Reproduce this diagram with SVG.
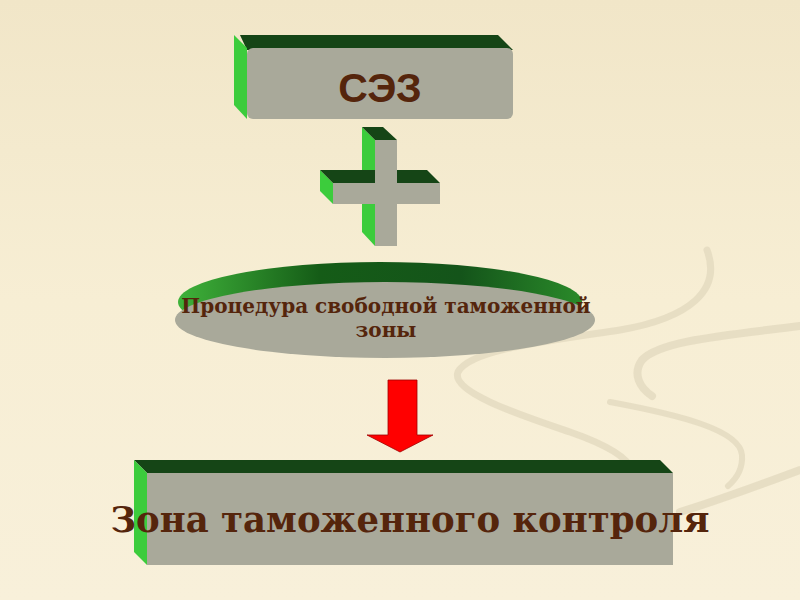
<svg xmlns="http://www.w3.org/2000/svg" width="800" height="600" viewBox="0 0 800 600">
<defs>
<linearGradient id="bg" x1="0" y1="0" x2="0" y2="1">
<stop offset="0" stop-color="#f1e6c8"/>
<stop offset="0.5" stop-color="#f7eed4"/>
<stop offset="1" stop-color="#f8f0da"/>
</linearGradient>
<linearGradient id="eg" x1="0" y1="0" x2="1" y2="0">
<stop offset="0" stop-color="#3fb23a"/>
<stop offset="0.35" stop-color="#155c17"/>
<stop offset="0.7" stop-color="#14541a"/>
<stop offset="1" stop-color="#2a8a2a"/>
</linearGradient>
<style>
.front{fill:#a9a99a}
.top{fill:#154516}
.side{fill:#3ccc3c}
.sw{fill:none;stroke:#e2d8bd;stroke-linecap:round;opacity:0.75}
.t{font-family:"DejaVu Serif",serif;font-weight:bold;fill:#55250c;text-anchor:middle}
</style>
</defs>
<rect width="800" height="600" fill="url(#bg)"/>
<g id="background-swirls">
<path class="sw" stroke-width="7" d="M707,250 C722,290 690,318 620,330 C540,342 470,350 458,372 C450,392 520,415 570,432 C610,446 628,458 632,470"/>
<path class="sw" stroke-width="8" d="M800,326 C730,335 660,340 642,360 C632,374 640,388 652,396"/>
<path class="sw" stroke-width="6" d="M610,402 C680,415 740,430 742,455 C743,470 735,480 728,486"/>
<path class="sw" stroke-width="8" d="M800,470 C760,485 720,500 680,512"/>
</g>
<g id="node-sez">
<polygon class="top" points="240,35 498,35 513,50 247,50"/>
<path class="side" d="M247,48 L234,35 L234,105 L247,119 Z"/>
<rect class="front" x="247" y="48" width="266" height="71" rx="6"/>
<text class="t" x="380" y="102" style="font-family:'Liberation Sans',Arial,sans-serif;font-size:41px">СЭЗ</text>
</g>
<g id="node-plus">
<polygon class="side" points="362,127 375,140 375,246 362,232"/>
<polygon class="top" points="362,127 383,127 397,140 375,140"/>
<polygon class="side" points="320,170 333,183 333,204 320,191"/>
<polygon class="top" points="320,170 427,170 440,183 333,183"/>
<polygon class="front" points="375,140 397,140 397,183 440,183 440,204 397,204 397,246 375,246 375,204 333,204 333,183 375,183"/>
</g>
<g id="node-procedure">
<ellipse cx="380" cy="302" rx="202" ry="40" fill="url(#eg)"/>
<ellipse class="front" cx="385" cy="320" rx="210" ry="38"/>
<text class="t" x="386" y="313" font-size="20">Процедура свободной таможенной</text>
<text class="t" x="386" y="337" font-size="20">зоны</text>
</g>
<g id="connectors">
<polygon points="388,380 417,380 417,435 433,435 400,452 367,435 388,435" fill="#ff0000" stroke="#a00000" stroke-width="0.8"/>
</g>
<g id="node-zone">
<polygon class="top" points="134,460 660,460 673,473 147,473"/>
<polygon class="side" points="134,460 147,473 147,565 134,552"/>
<rect class="front" x="147" y="473" width="526" height="92"/>
<text class="t" x="410" y="532" font-size="35.5">Зона таможенного контроля</text>
</g>
</svg>
